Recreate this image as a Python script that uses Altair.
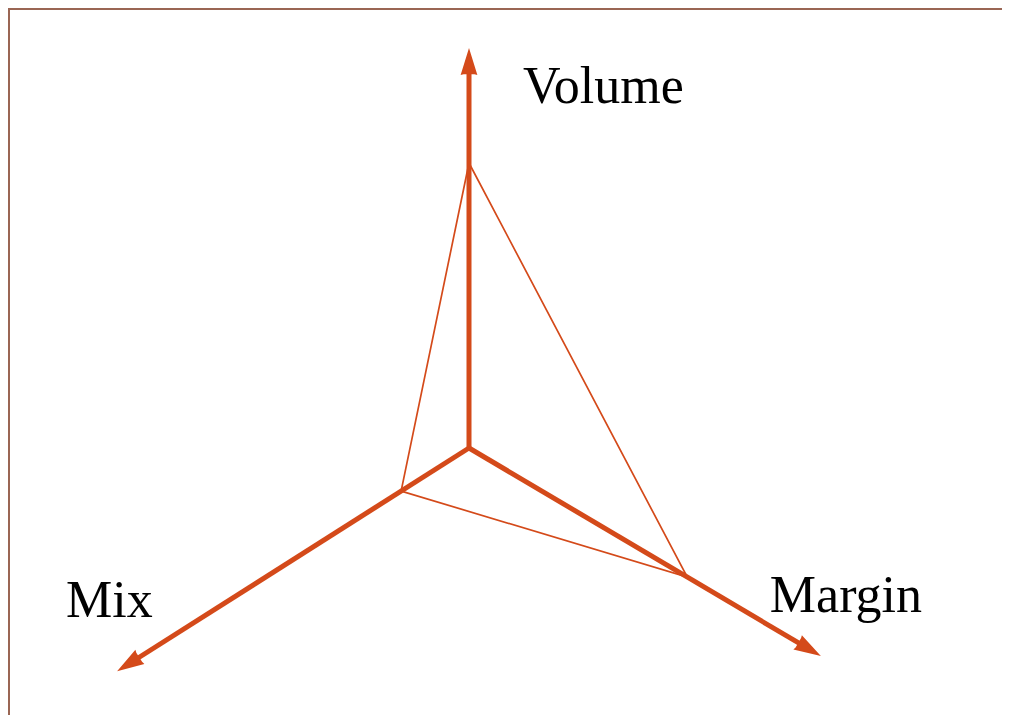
import math
import altair as alt
import pandas as pd

# ---- data ----
axes = ["Volume", "Margin", "Mix"]
axis_angle_deg = [90.0, -30.6, 212.4]      # direction of each axis (math convention)
axis_length = [1.0, 1.022, 1.042]           # axis length in chart units
values = [0.7125, 0.634, 0.201]             # polygon value on each axis

ORANGE = "#d44a1a"
W, H = 994, 707

rows = []
for name, ang, ln, v in zip(axes, axis_angle_deg, axis_length, values):
    a = math.radians(ang)
    rows.append(dict(
        axis=name,
        x0=0.0, y0=0.0,
        tipx=ln * math.cos(a), tipy=ln * math.sin(a),
        shx=(ln - 0.04) * math.cos(a), shy=(ln - 0.04) * math.sin(a),
        px=v * math.cos(a), py=v * math.sin(a),
        heading=(90.0 - ang) % 360.0,
    ))
df = pd.DataFrame(rows)

poly = pd.DataFrame([
    dict(order=i, px=r["px"], py=r["py"]) for i, r in enumerate(rows + [rows[0]])
])

xs = alt.Scale(domain=[-1.1525, 1.3325], nice=False, zero=False)
ys = alt.Scale(domain=[-0.6675, 1.1], nice=False, zero=False)

base = alt.Chart(df)

shafts = base.mark_rule(color=ORANGE, strokeWidth=5, strokeCap="butt").encode(
    x=alt.X("x0:Q", scale=xs, axis=None),
    y=alt.Y("y0:Q", scale=ys, axis=None),
    x2="shx:Q",
    y2="shy:Q",
)

heads = base.mark_point(
    filled=True, color=ORANGE, opacity=1, strokeWidth=0,
    shape="M0,0L0.31,1L0.2,0.97L-0.2,0.97L-0.31,1Z", size=2916,
).encode(
    x=alt.X("tipx:Q", scale=xs, axis=None),
    y=alt.Y("tipy:Q", scale=ys, axis=None),
    angle=alt.Angle("heading:Q", scale=None),
)

polygon = alt.Chart(poly).mark_line(color=ORANGE, strokeWidth=1.7, strokeJoin="miter").encode(
    x=alt.X("px:Q", scale=xs, axis=None),
    y=alt.Y("py:Q", scale=ys, axis=None),
    order="order:Q",
)

label_offsets = {"Volume": (54, 55), "Mix": (-51, -54), "Margin": (-51, -44)}
labels = []
for name in axes:
    dx, dy = label_offsets[name]
    labels.append(
        base.transform_filter(alt.datum.axis == name).mark_text(
            font="Liberation Serif", fontSize=52, color="black",
            align="left", baseline="alphabetic", dx=dx, dy=dy,
        ).encode(
            x=alt.X("tipx:Q", scale=xs, axis=None),
            y=alt.Y("tipy:Q", scale=ys, axis=None),
            text="axis:N",
        )
    )

frame_df = pd.DataFrame({"k": [0]})
frame_left = alt.Chart(frame_df).mark_rule(color="#9a6654", strokeWidth=2).encode(
    x=alt.value(1), y=alt.value(0), y2=alt.value(H)
)
frame_top = alt.Chart(frame_df).mark_rule(color="#9a6654", strokeWidth=2).encode(
    y=alt.value(1), x=alt.value(0), x2=alt.value(W)
)

chart = alt.layer(
    frame_left, frame_top, polygon, shafts, heads, *labels
).properties(
    width=W, height=H, padding=0,
    autosize=alt.AutoSizeParams(type="none"),
    background="white",
).configure_view(stroke=None)

chart.save("out.html", embed_options={"renderer": "svg", "actions": False})
